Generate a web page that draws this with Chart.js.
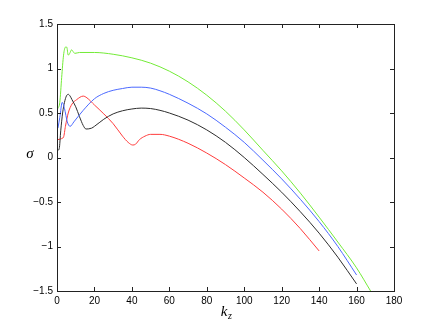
<!DOCTYPE html>
<html>
<head>
<meta charset="utf-8">
<script src="https://cdn.jsdelivr.net/npm/chart.js@4/dist/chart.umd.min.js"></script>
<style>
  html, body { margin: 0; padding: 0; background: #fff; }
  #wrap { width: 436px; height: 328px; }
</style>
</head>
<body>
<div id="wrap"><canvas id="sigma-chart" width="436" height="328"></canvas></div>
<script>
// 各曲線的 k_z 與 sigma 讀值
const greenK = [0.5, 1.5, 2.5, 3.5, 4.5, 5.2, 6, 6.8, 7.8, 8.6, 9.5, 12, 20, 30, 40, 50, 60, 70, 80, 90, 100, 110, 120, 130, 140, 150, 160, 167.5];
const greenS = [0.55, 0.62, 0.9, 1.15, 1.24, 1.24, 1.15, 1.17, 1.21, 1.19, 1.17, 1.18, 1.18, 1.16, 1.12, 1.06, 0.97, 0.85, 0.70, 0.52, 0.31, 0.08, -0.15, -0.40, -0.67, -0.95, -1.24, -1.5];

const blueK = [0.5, 1.5, 2.8, 4, 5.5, 7, 9, 14, 20, 25, 30, 35, 40, 45, 50, 55, 60, 70, 80, 90, 100, 110, 120, 130, 140, 150, 160];
const blueS = [0.33, 0.45, 0.62, 0.55, 0.40, 0.35, 0.40, 0.53, 0.66, 0.72, 0.755, 0.775, 0.79, 0.79, 0.78, 0.75, 0.71, 0.61, 0.49, 0.34, 0.17, -0.03, -0.24, -0.47, -0.72, -1.00, -1.32];

const blackK = [0.5, 1.2, 2, 3, 4, 5, 6, 7, 8, 10, 12, 14, 15.5, 18.5, 20, 25, 30, 35, 40, 45, 50, 55, 60, 70, 80, 90, 100, 110, 120, 130, 140, 150, 160];
const blackS = [0.08, 0.10, 0.30, 0.50, 0.62, 0.69, 0.71, 0.69, 0.65, 0.57, 0.46, 0.36, 0.32, 0.33, 0.35, 0.43, 0.49, 0.525, 0.545, 0.555, 0.55, 0.53, 0.50, 0.42, 0.31, 0.17, 0.0, -0.19, -0.39, -0.61, -0.85, -1.12, -1.42];

const redK = [0.5, 2, 3.5, 4.5, 6, 8, 10.5, 14, 16, 20, 25, 30, 35, 38, 40.5, 42, 44, 47, 50, 55, 60, 70, 80, 90, 100, 110, 120, 130, 140];
const redS = [0.20, 0.21, 0.23, 0.35, 0.50, 0.60, 0.65, 0.69, 0.67, 0.59, 0.49, 0.38, 0.24, 0.17, 0.14, 0.15, 0.20, 0.24, 0.26, 0.26, 0.24, 0.16, 0.05, -0.08, -0.23, -0.39, -0.58, -0.80, -1.05];

const xTicks = [0, 20, 40, 60, 80, 100, 120, 140, 160, 180];
const yTicks = [-1.5, -1, -0.5, 0, 0.5, 1, 1.5];

function toPoints(ks, ss) {
    return ks.map((k, i) => ({ x: k, y: ss[i] }));
}

function line(ks, ss, color) {
    return {
        data: toPoints(ks, ss),
        borderColor: color,
        borderWidth: 1,
        pointRadius: 0,
        showLine: true,
        fill: false,
        cubicInterpolationMode: 'monotone'
    };
}

// 向內的刻度線、上方與右方的框線、座標軸標題
const framePlugin = {
    id: 'frame',
    afterDraw(chart) {
        const c = chart.ctx;
        const a = chart.chartArea;
        const xs = chart.scales.x;
        const ys = chart.scales.y;
        c.save();
        c.strokeStyle = '#222';
        c.lineWidth = 1;
        c.strokeRect(Math.round(a.left) + 0.5, Math.round(a.top) + 0.5,
            Math.round(a.right - a.left), Math.round(a.bottom - a.top));
        c.beginPath();
        xTicks.forEach(v => {
            const px = Math.round(xs.getPixelForValue(v)) + 0.5;
            c.moveTo(px, a.bottom); c.lineTo(px, a.bottom - 4);
            c.moveTo(px, a.top); c.lineTo(px, a.top + 4);
        });
        yTicks.forEach(v => {
            const py = Math.round(ys.getPixelForValue(v)) + 0.5;
            c.moveTo(a.left, py); c.lineTo(a.left + 4, py);
            c.moveTo(a.right, py); c.lineTo(a.right - 4, py);
        });
        c.stroke();

        c.fillStyle = '#000';
        c.textBaseline = 'middle';
        c.textAlign = 'center';
        c.font = 'italic 15px "Liberation Serif", "DejaVu Serif", serif';
        c.fillText('σ', 30, 154);
        c.fillText('k', 224, 312);
        c.font = 'italic 10px "Liberation Serif", "DejaVu Serif", serif';
        c.fillText('z', 230, 316);
        c.restore();
    }
};

const ctx = document.getElementById('sigma-chart').getContext('2d');
new Chart(ctx, {
    type: 'scatter',
    data: {
        datasets: [
            line(greenK, greenS, 'rgb(115, 235, 55)'),
            line(blueK, blueS, 'rgb(75, 105, 255)'),
            line(blackK, blackS, 'rgb(45, 45, 45)'),
            line(redK, redS, 'rgb(255, 60, 60)')
        ]
    },
    options: {
        responsive: false,
        animation: false,
        layout: { padding: { left: 0, top: 24, right: 42, bottom: 0 } },
        plugins: {
            legend: { display: false },
            tooltip: { enabled: false }
        },
        scales: {
            x: {
                type: 'linear',
                min: 0,
                max: 180,
                afterFit(scale) { scale.height = 37; },
                afterBuildTicks(scale) { scale.ticks = xTicks.map(v => ({ value: v })); },
                grid: { display: false, drawTicks: false },
                border: { display: false },
                ticks: {
                    padding: 4,
                    color: '#000',
                    font: { family: '"Liberation Sans", Arial, sans-serif', size: 10 },
                    callback: v => String(v)
                }
            },
            y: {
                type: 'linear',
                min: -1.5,
                max: 1.5,
                afterFit(scale) { scale.width = 57; },
                afterBuildTicks(scale) { scale.ticks = yTicks.map(v => ({ value: v })); },
                grid: { display: false, drawTicks: false },
                border: { display: false },
                ticks: {
                    padding: 4,
                    color: '#000',
                    font: { family: '"Liberation Sans", Arial, sans-serif', size: 10 },
                    callback: v => String(v).replace('-', '\u2212')
                }
            }
        }
    },
    plugins: [framePlugin]
});
</script>
</body>
</html>
